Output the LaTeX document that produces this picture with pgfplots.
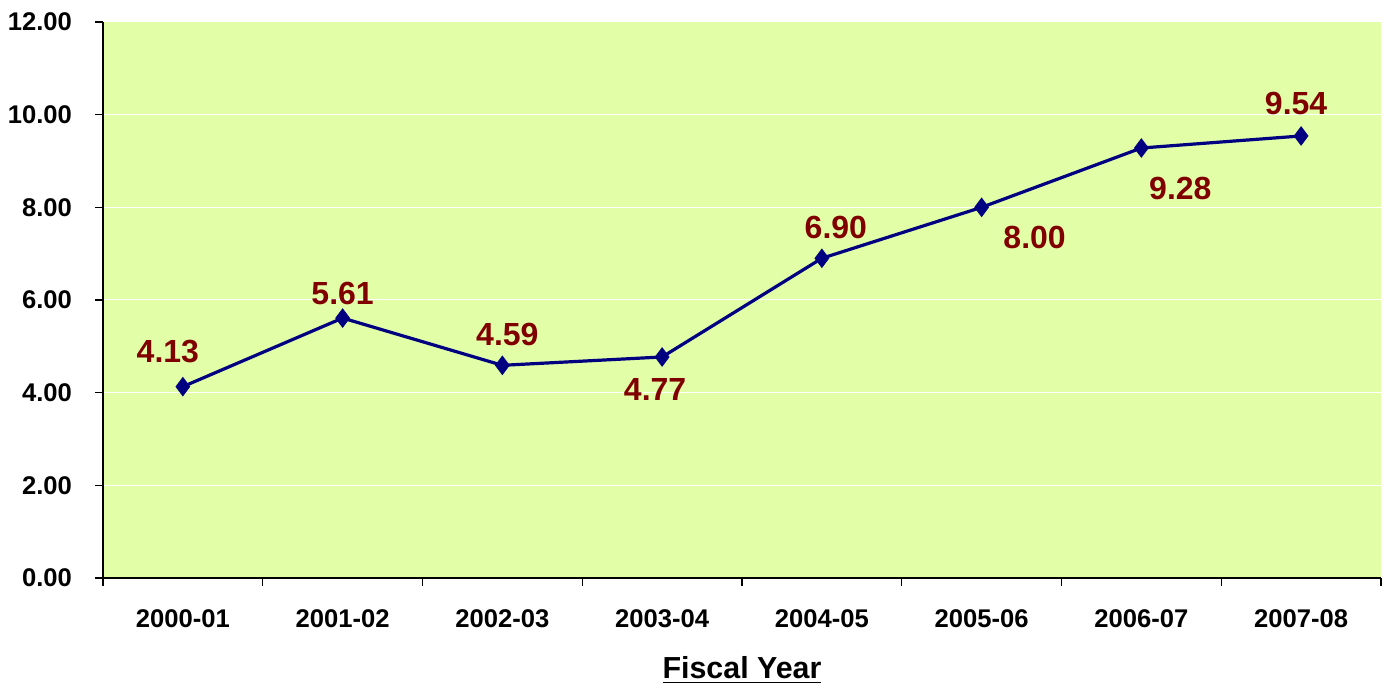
\documentclass[border=0pt]{standalone}
\usepackage{pgfplots}
\pgfplotsset{compat=1.18}
\usepackage{fontspec}
\setmainfont{Liberation Sans}
\definecolor{bgfill}{RGB}{226,255,168}
\definecolor{linenavy}{RGB}{0,0,128}
\definecolor{lblred}{RGB}{128,0,0}

\pgfplotstableread{
x    y     dx    dy
0.5  4.13  -7.5  17.5
1.5  5.61   0.0  12.5
2.5  4.59   2.5  15.5
3.5  4.77  -3.5 -16.5
4.5  6.90   7.0  15.5
5.5  8.00  26.5 -15.0
6.5  9.28  19.5 -20.0
7.5  9.54  -2.5  16.0
}\growth

\begin{document}
\begin{tikzpicture}
\path[use as bounding box] (-51.5pt,-55pt) rectangle (644pt,289pt);
\begin{axis}[
    at={(0,0)}, anchor=south west,
    scale only axis,
    width=639pt, height=278pt,
    xmin=0, xmax=8, ymin=0, ymax=12,
    axis x line*=bottom, axis y line*=left,
    axis line style={black, line width=0.8pt},
    axis background/.style={fill=bgfill},
    xtick={0,...,8},
    x tick label as interval,
    xticklabels={2000-01,2001-02,2002-03,2003-04,2004-05,2005-06,2006-07,2007-08},
    ytick={0,2,...,12},
    yticklabel={\pgfmathprintnumber[fixed,fixed zerofill,precision=2]{\tick}},
    /pgf/number format/assume math mode=true,
    tick align=outside, major tick length=4pt,
    tick style={black, line width=0.6pt},
    ymajorgrids, grid style={white, line width=0.5pt},
    xticklabel style={font=\bfseries\fontsize{12.8}{14}\selectfont, yshift=-8.5pt},
    yticklabel style={font=\bfseries\fontsize{12.8}{14}\selectfont, xshift=-8pt},
    xlabel={\underline{\textbf{Fiscal Year}}},
    xlabel style={font=\fontsize{15.2}{18}\selectfont, yshift=-7.5pt},
    clip=false,
]
\addplot[linenavy, line width=1.6pt, mark=diamond*, mark size=4.6pt,
    mark options={fill=linenavy, draw=linenavy, line width=0.4pt},
    visualization depends on={\thisrow{dx} \as \dx},
    visualization depends on={\thisrow{dy} \as \dy},
    nodes near coords,
    point meta=explicit symbolic,
    nodes near coords style={font=\bfseries\fontsize{16}{18}\selectfont, text=lblred,
        anchor=center, xshift=\dx pt, yshift=\dy pt},
] table[x=x, y=y, meta=y] {\growth};
\end{axis}
\end{tikzpicture}
\end{document}
